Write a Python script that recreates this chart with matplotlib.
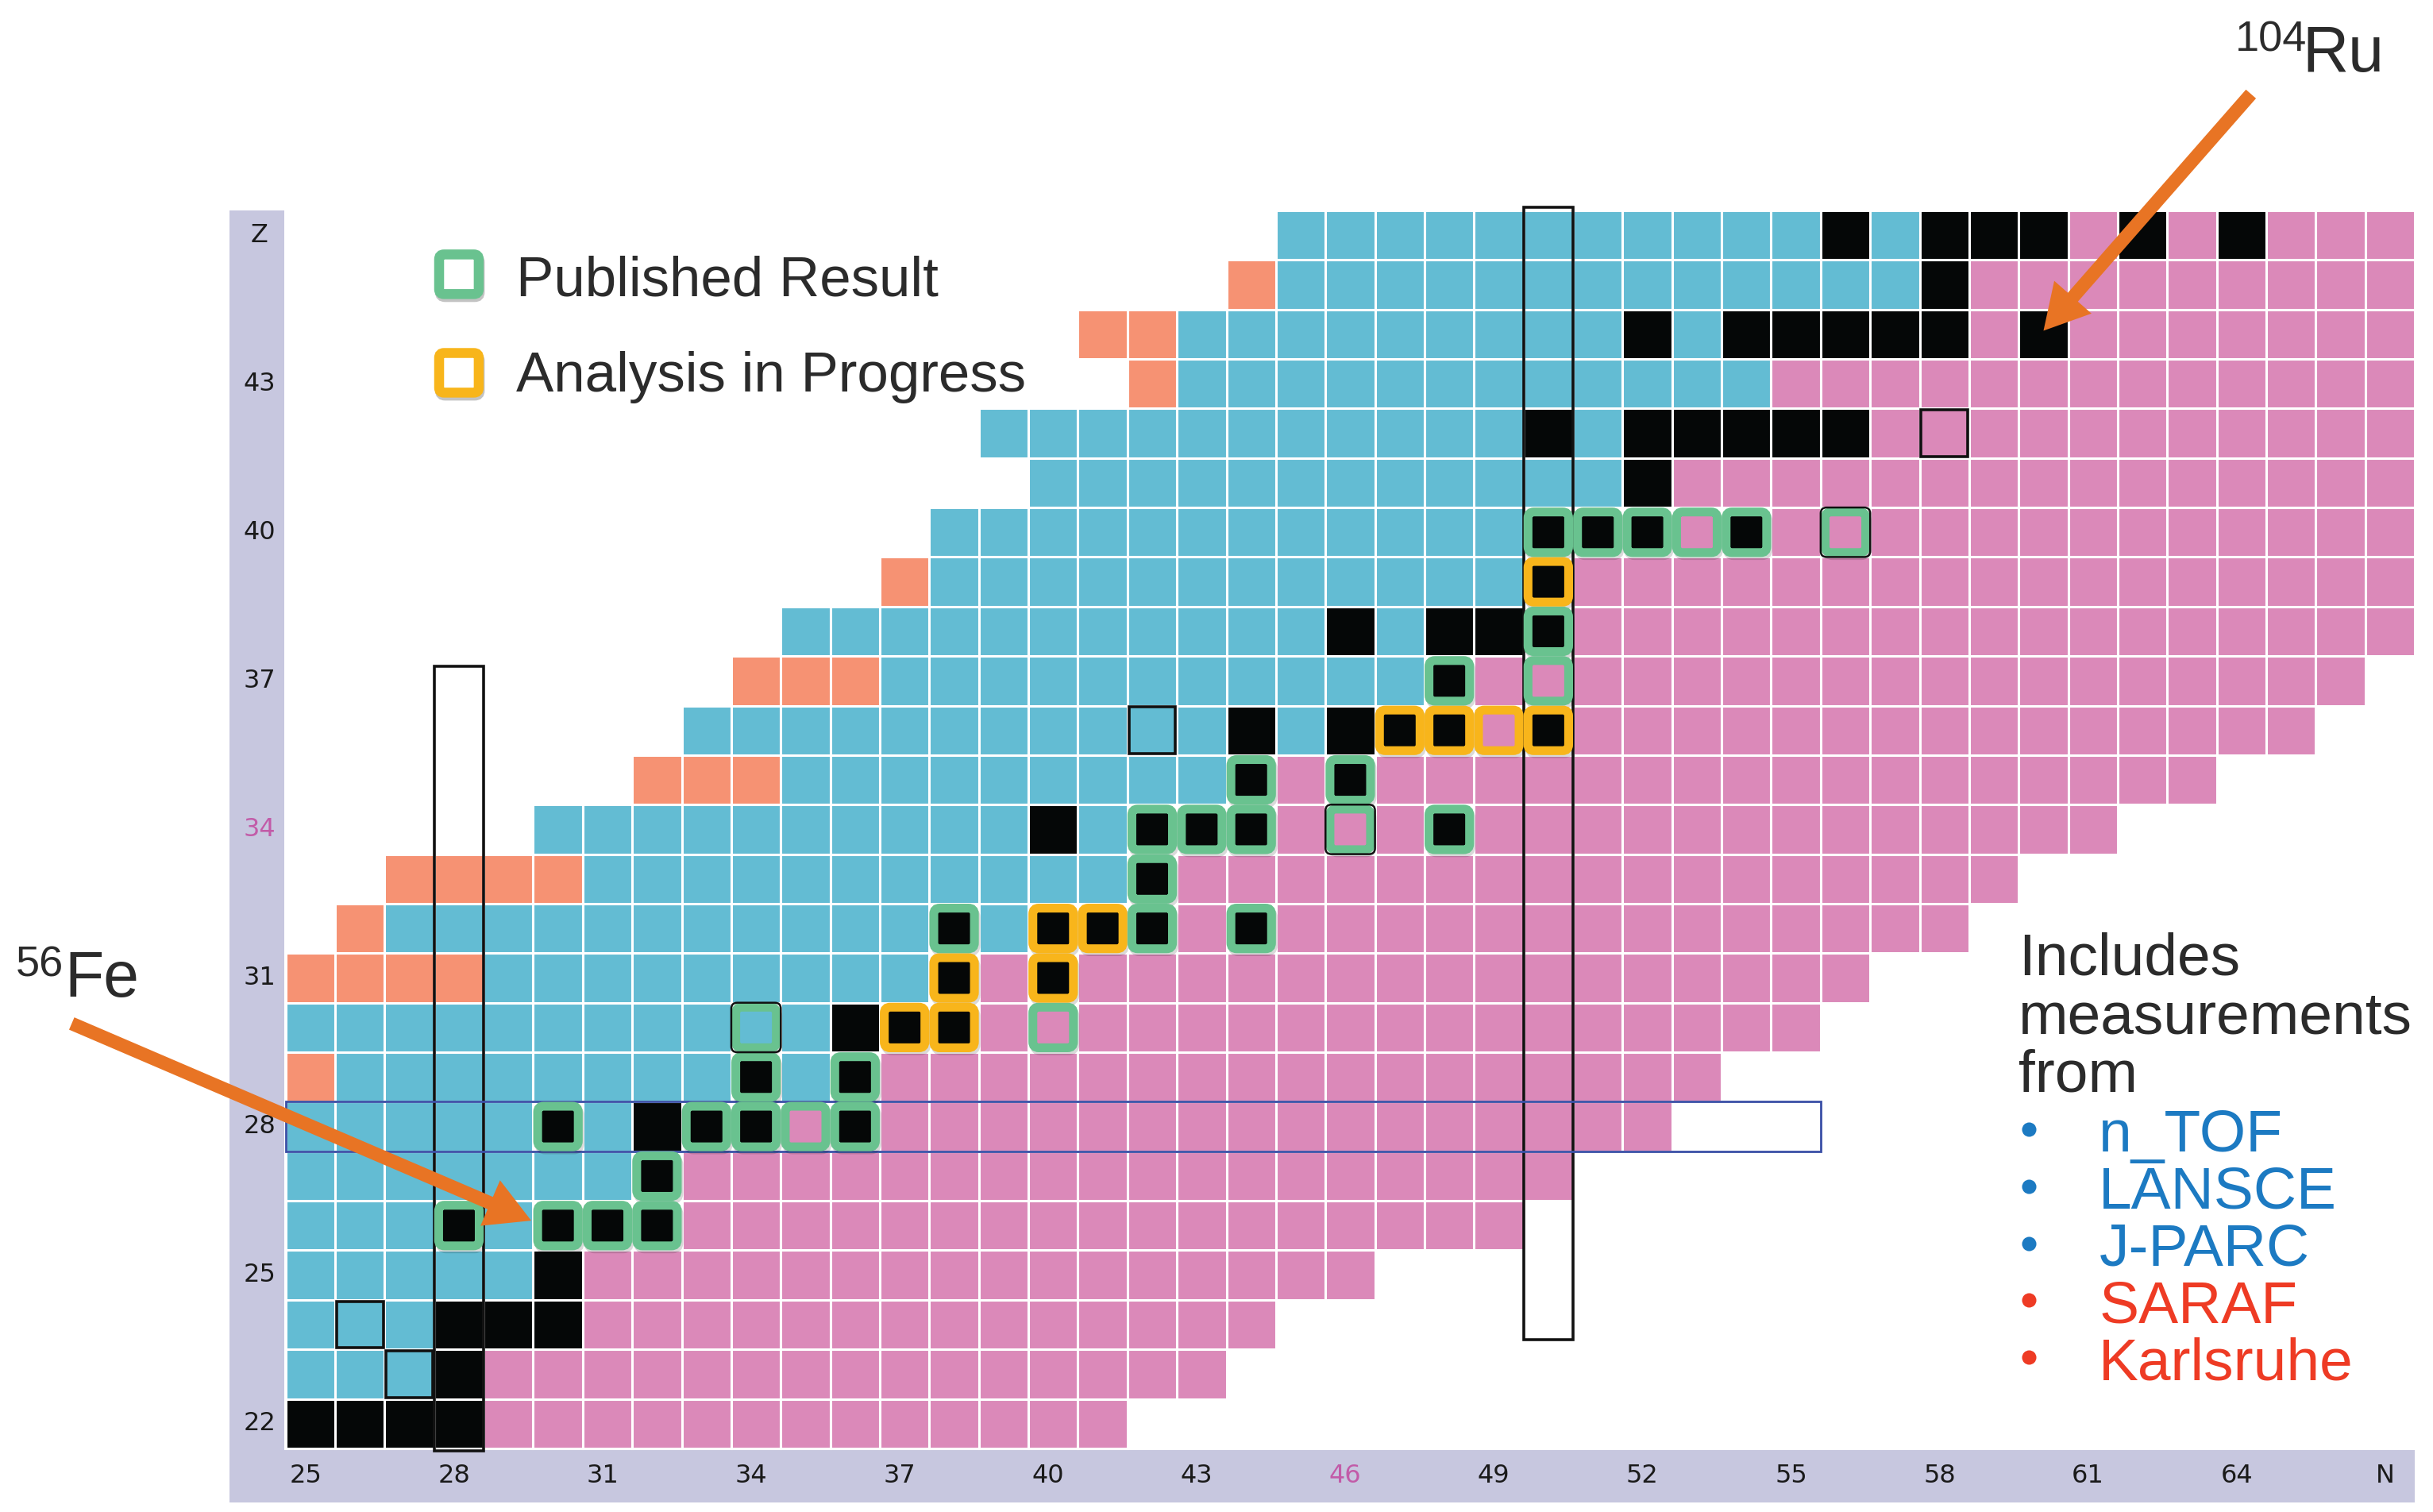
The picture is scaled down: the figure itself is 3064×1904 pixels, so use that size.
import matplotlib
matplotlib.use("Agg")
import matplotlib.pyplot as plt
import matplotlib.patches as mpatches
from matplotlib.patches import FancyBboxPatch, FancyArrow

plt.rcParams["font.family"] = ["Liberation Sans", "DejaVu Sans"]

# ── chart rows: Z, first N, leading cells (run-length), last N (rest is beta- pink)
# codes: p = proton rich (salmon), b = beta+ (blue), k = stable (black), r = beta- (pink)
ROW_Z = list(range(22, 47))
ROW_FIRST_N = [25, 25, 25, 25, 25, 25, 25, 25, 25, 25, 26, 27, 30,
               32, 33, 34, 35, 37, 38, 40, 39, 42, 41, 44, 45]
ROW_HEAD = [
    "k4",                  # 22
    "b3 k",                # 23
    "b3 k3",               # 24
    "b5 k",                # 25
    "b3 k b k3",           # 26
    "b7 k",                # 27
    "b5 k b k3 r k",       # 28
    "p b8 k b k",          # 29
    "b11 k3",              # 30
    "p4 b9 k r k",         # 31
    "p b11 k b k3 r k",    # 32
    "p4 b11 k",            # 33
    "b10 k b k3 r3 k",     # 34
    "p3 b9 k r k",         # 35
    "b11 k b k3 r k",      # 36
    "p3 b11 k",            # 37
    "b11 k b k3",          # 38
    "p b12 k",             # 39
    "b12 k3 r k",          # 40
    "b12 k",               # 41
    "b11 k b k5",          # 42
    "p b12",               # 43
    "p2 b9 k b k5 r k",    # 44
    "p b13 k",             # 45
    "b11 k b k3 r k r k",  # 46
]
ROW_LAST_N = [41, 43, 44, 46, 49, 50, 52, 53, 55, 56, 58, 59, 61,
              63, 65, 66, 67, 67, 67, 67, 67, 67, 67, 67, 67]

# (N, Z) of measured nuclei
PUBLISHED = [(28, 26), (30, 26), (31, 26), (32, 26), (32, 27),
             (30, 28), (33, 28), (34, 28), (35, 28), (36, 28),
             (34, 29), (36, 29), (34, 30), (40, 30), (38, 32),
             (42, 32), (44, 32), (42, 33), (42, 34), (43, 34),
             (44, 34), (46, 34), (48, 34), (44, 35), (46, 35),
             (48, 37), (50, 37), (50, 38), (50, 40), (51, 40),
             (52, 40), (53, 40), (54, 40), (56, 40)]
IN_PROGRESS = [(37, 30), (38, 30), (38, 31), (40, 31), (40, 32),
               (41, 32), (47, 36), (48, 36), (49, 36), (50, 36), (50, 39)]
OUTLINED = [(26, 24), (27, 23), (42, 36), (58, 42)]
OUTLINED_BOXES = [(34, 30), (46, 34), (56, 40)]

Z_TICKS = [22, 25, 28, 31, 34, 37, 40, 43]
N_TICKS = [25, 28, 31, 34, 37, 40, 43, 46, 49, 52, 55, 58, 61, 64]
Z_HIGHLIGHT = [34]
N_HIGHLIGHT = [46]

FACILITIES = ["n_TOF", "LANSCE", "J-PARC", "SARAF", "Karlsruhe"]
FACILITY_COLORS = ["#1C7AC2", "#1C7AC2", "#1C7AC2", "#EE3B24", "#EE3B24"]

COLORS = {"p": "#F69273", "b": "#63BCD3", "k": "#050707", "r": "#DB89B9"}
GREEN = "#69C28F"
ORANGE_BOX = "#F8B51B"
ARROW = "#E87424"
LAVENDER = "#C7C7DF"
TEXT = "#2B2B2B"


def parse_row(n0, head, last):
    cells = []
    for tok in head.split():
        code, count = tok[0], int(tok[1:] or 1)
        cells += [code] * count
    cells += ["r"] * (last - n0 + 1 - len(cells))
    return {n0 + i: c for i, c in enumerate(cells)}


def draw_box(ax, n, z, color, fill, outline=False):
    style = "round,pad=0,rounding_size=0.12"
    ax.add_patch(FancyBboxPatch((n - 0.38, z - 0.47), 0.82, 0.82, boxstyle=style,
                                fc="none", ec="black", lw=4.0, alpha=0.15, zorder=4))
    ax.add_patch(FancyBboxPatch((n - 0.41, z - 0.41), 0.82, 0.82, boxstyle=style,
                                fc=fill, ec=color, lw=4.0, zorder=5))
    if outline:
        ax.add_patch(FancyBboxPatch((n - 0.5, z - 0.5), 1.0, 1.0, boxstyle=style,
                                    fc="none", ec="#111111", lw=0.9, zorder=6))


fig = plt.figure(figsize=(15.32, 9.52), dpi=200)
ax = fig.add_axes([0, 0, 1, 1])
ax.set_xlim(18.732, 67.866)
ax.set_ylim(20.216, 50.748)
ax.axis("off")

# 축 띠
ax.add_patch(mpatches.Rectangle((23.37, 20.41), 24.47 - 23.37, 46.5 - 20.41,
                                fc=LAVENDER, ec="none", zorder=0))
ax.add_patch(mpatches.Rectangle((23.37, 20.41), 67.5 - 23.37, 21.47 - 20.41,
                                fc=LAVENDER, ec="none", zorder=0))

boxed = {(n, z): GREEN for n, z in PUBLISHED}
boxed.update({(n, z): ORANGE_BOX for n, z in IN_PROGRESS})

for z, n0, head, last in zip(ROW_Z, ROW_FIRST_N, ROW_HEAD, ROW_LAST_N):
    for n, code in parse_row(n0, head, last).items():
        if (n, z) in boxed:
            draw_box(ax, n, z, boxed[(n, z)], COLORS[code], (n, z) in OUTLINED_BOXES)
            continue
        ax.add_patch(mpatches.Rectangle((n - 0.5, z - 0.5), 1, 1, fc=COLORS[code],
                                        ec="white", lw=1.1, zorder=1))

for n, z in OUTLINED:
    ax.add_patch(mpatches.Rectangle((n - 0.47, z - 0.47), 0.94, 0.94, fc="none",
                                    ec="#111111", lw=1.3, zorder=3))

# 강조 테두리
ax.add_patch(mpatches.Rectangle((27.5, 21.45), 1, 37.29 - 21.45, fc="none",
                                ec="#111111", lw=1.3, zorder=3.5))
ax.add_patch(mpatches.Rectangle((49.5, 23.7), 1, 46.56 - 23.7, fc="none",
                                ec="#111111", lw=1.3, zorder=3.5))
ax.add_patch(mpatches.Rectangle((24.5, 27.5), 31, 1, fc="none",
                                ec="#3A4FA6", lw=1.0, zorder=3.5))

# 눈금 글자
for z in Z_TICKS + [46]:
    label = "Z" if z == 46 else str(z)
    col = "#C25BA8" if z in Z_HIGHLIGHT else "#1A1A1A"
    ax.text(23.97, z, label, ha="center", va="center", fontsize=11.5,
            family="DejaVu Sans", color=col, zorder=7)
for n in N_TICKS + [67]:
    label = "N" if n == 67 else str(n)
    col = "#C25BA8" if n in N_HIGHLIGHT else "#1A1A1A"
    ax.text(n - 0.1, 20.94, label, ha="center", va="center", fontsize=11.5,
            family="DejaVu Sans", color=col, zorder=7)

# 범례
for zc, col, label, zb in [(45.21, GREEN, "Published Result", 44.78),
                           (43.22, ORANGE_BOX, "Analysis in Progress", 42.84)]:
    style = "round,pad=0,rounding_size=0.1"
    ax.add_patch(FancyBboxPatch((28.0 - 0.38, zc - 0.46), 0.8, 0.8, boxstyle=style,
                                fc="none", ec="#555555", lw=4.5, alpha=0.35, zorder=4))
    ax.add_patch(FancyBboxPatch((28.0 - 0.4, zc - 0.4), 0.8, 0.8, boxstyle=style,
                                fc="white", ec=col, lw=4.5, zorder=5))
    ax.text(29.16, zb, label, ha="left", va="baseline", fontsize=25.5,
            color=TEXT, zorder=7)

# 측정 시설
for txt, zb in [("Includes", 31.06), ("measurements", 29.87), ("from", 28.71)]:
    ax.text(59.5, zb, txt, ha="left", va="baseline", fontsize=27, color=TEXT, zorder=7)
for i, (name, col) in enumerate(zip(FACILITIES, FACILITY_COLORS)):
    zb = 27.50 - i * 1.153
    ax.plot([59.71], [zb + 0.45], "o", ms=6.5, color=col, mec="none", zorder=7)
    ax.text(61.12, zb, name, ha="left", va="baseline", fontsize=27, color=col, zorder=7)

# 화살표와 핵종 이름
for (x0, y0), (x1, y1) in [((20.18, 30.08), (29.46, 26.10)),
                           ((64.19, 48.85), (60.00, 44.07))]:
    ax.add_patch(FancyArrow(x0, y0, x1 - x0, y1 - y0, width=0.27, head_width=1.0,
                            head_length=0.9, length_includes_head=True,
                            color=ARROW, lw=0, zorder=8))

ax.text(19.05, 31.04, "56", ha="left", va="baseline", fontsize=19.5, color=TEXT, zorder=7)
ax.text(20.04, 30.62, "Fe", ha="left", va="baseline", fontsize=29, color=TEXT, zorder=7)
ax.text(63.87, 49.71, "104", ha="left", va="baseline", fontsize=19.5, color=TEXT, zorder=7)
ax.text(65.22, 49.31, "Ru", ha="left", va="baseline", fontsize=29, color=TEXT, zorder=7)

fig.savefig("out.png", dpi=200, facecolor="white")
